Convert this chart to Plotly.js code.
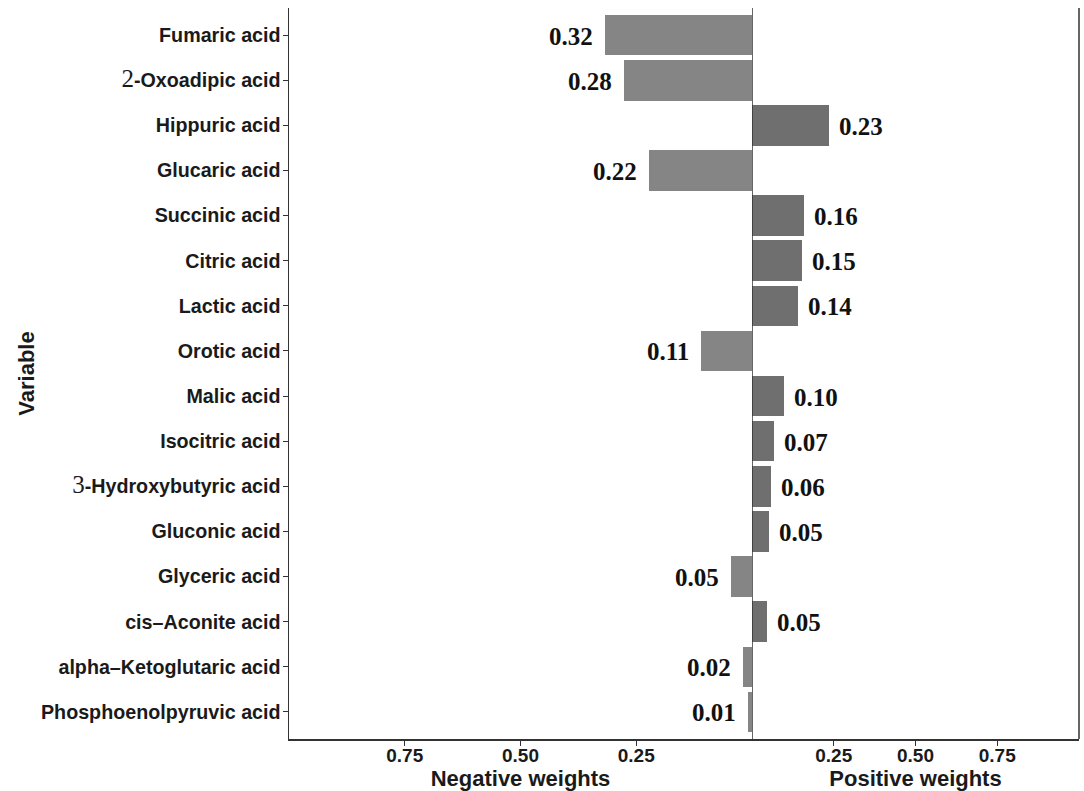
<!DOCTYPE html>
<html><head><meta charset="utf-8">
<script src="https://cdn.plot.ly/plotly-3.0.1.min.js"></script>
<style>html,body{margin:0;padding:0;background:#fff}</style>
</head><body>
<div id="chart" style="width:1084px;height:791px"></div>
<script>
const variables = ["Fumaric acid","2-Oxoadipic acid","Hippuric acid","Glucaric acid","Succinic acid","Citric acid","Lactic acid","Orotic acid","Malic acid","Isocitric acid","3-Hydroxybutyric acid","Gluconic acid","Glyceric acid","cis–Aconite acid","alpha–Ketoglutaric acid","Phosphoenolpyruvic acid"];
const weights = [-0.318,-0.276,0.234,-0.222,0.158,0.152,0.142,-0.110,0.098,0.068,0.057,0.051,-0.046,0.047,-0.020,-0.008];
const negTickVals = [-0.75,-0.5,-0.25];
const negTickText = ["0.75","0.50","0.25"];
const posTickVals = [0.25,0.5,0.75];
const posTickText = ["0.25","0.50","0.75"];

const negY = [], negX = [], posY = [], posX = [];
variables.forEach((v,i)=>{ if(weights[i]<0){negY.push(v);negX.push(weights[i]);} else {posY.push(v);posX.push(weights[i]);} });

const yTickText = variables.map(v => v.replace(/^(\d)/, '<span style="font-family:\'Liberation Serif\';font-weight:normal;font-size:25px">$1</span>'));

const sans = 'Liberation Sans, Arial, sans-serif';
const serif = 'Liberation Serif, Times New Roman, serif';
const lineCol = '#333333';

const traces = [
  {type:'bar', orientation:'h', x:negX, y:negY, xaxis:'x', yaxis:'y', width:0.9,
   marker:{color:'#858585'}, hoverinfo:'skip'},
  {type:'bar', orientation:'h', x:posX, y:posY, xaxis:'x2', yaxis:'y', width:0.9,
   marker:{color:'#6f6f6f'}, hoverinfo:'skip'}
];

const annotations = variables.map((v,i)=>{
  const w = weights[i];
  return {x:w, y:v, xref: w<0?'x':'x2', yref:'y', text:Math.abs(w).toFixed(2),
    xanchor: w<0?'right':'left', xshift: w<0?-10:8, yshift:-1, showarrow:false,
    font:{family:serif, size:25, weight:'bold', color:'#111'}};
});

const split = 463/790;
const axBase = {showgrid:false, zeroline:false, showline:true, linecolor:lineCol, linewidth:1.5,
  ticks:'outside', ticklen:5, tickwidth:1, tickcolor:lineCol,
  tickfont:{family:sans, size:19, weight:'bold', color:'#1a1a1a'}, fixedrange:true};

const layout = {
  width:1084, height:791,
  margin:{l:289, r:5, t:8, b:52},
  paper_bgcolor:'#fff', plot_bgcolor:'#fff',
  showlegend:false, bargap:0,
  xaxis:Object.assign({}, axBase, {domain:[0,split], range:[-1,0], tickmode:'array',
    tickvals:negTickVals, ticktext:negTickText, anchor:'y', ticklabelstandoff:-6,
    title:{text:'Negative weights', font:{family:sans, size:22, weight:'bold', color:'#1a1a1a'}, standoff:0}}),
  xaxis2:Object.assign({}, axBase, {domain:[split,1], range:[0,1], tickmode:'array',
    tickvals:posTickVals, ticktext:posTickText, anchor:'y', ticklabelstandoff:-6,
    title:{text:'Positive weights', font:{family:sans, size:22, weight:'bold', color:'#1a1a1a'}, standoff:0}}),
  yaxis:Object.assign({}, axBase, {type:'category', categoryorder:'array', categoryarray:variables,
    range:[15.6,-0.6], tickmode:'array', tickvals:variables, ticktext:yTickText, anchor:'x',
    ticklabelstandoff:-2, tickfont:{family:sans, size:19.7, weight:'bold', color:'#1a1a1a'},
    title:{text:'Variable', font:{family:sans, size:22, weight:'bold', color:'#1a1a1a'}, standoff:0}}),
  shapes:[
    {type:'line', xref:'x2', x0:0, x1:0, yref:'paper', y0:0, y1:1, line:{color:lineCol, width:1.5}},
    {type:'line', xref:'paper', x0:1, x1:1, yref:'paper', y0:0, y1:1, line:{color:lineCol, width:1.5}}
  ],
  annotations:annotations
};

Plotly.newPlot('chart', traces, layout, {displayModeBar:false, staticPlot:true});
</script>
</body></html>
